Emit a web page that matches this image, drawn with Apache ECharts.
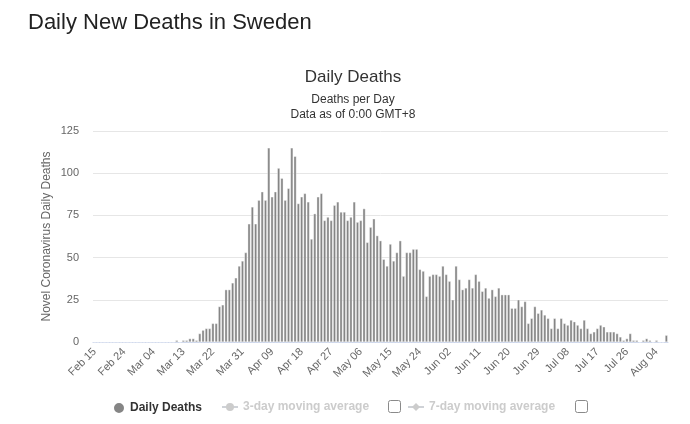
<!DOCTYPE html>
<html>
<head>
<meta charset="utf-8">
<script src="https://cdn.jsdelivr.net/npm/echarts@6/dist/echarts.min.js"></script>
<style>
html,body{margin:0;padding:0;background:#fff;}
#chart{width:690px;height:424px;}
</style>
</head>
<body>
<div id="chart"></div>
<script>
// Categories: daily from Feb 15 to Aug 07 (2020)
const startDate = Date.UTC(2020, 1, 15);
const dayCount = 175;
const monthNames = ['Jan','Feb','Mar','Apr','May','Jun','Jul','Aug','Sep','Oct','Nov','Dec'];
const categories = [];
for (let i = 0; i < dayCount; i++) {
  const d = new Date(startDate + i * 86400000);
  const dd = d.getUTCDate();
  categories.push(monthNames[d.getUTCMonth()] + ' ' + (dd < 10 ? '0' + dd : '' + dd));
}

const dailyDeaths = [
  0,0,0,0,0,0,0,0,0,0,
  0,0,0,0,0,0,0,0,0,0,
  0,0,0,0,0,
  1,0,1,1,2,2,1,5,7,8,
  8,11,11,21,22,31,31,35,38,45,
  48,53,70,80,70,84,89,84,115,86,
  89,103,97,84,91,115,110,82,86,88,
  83,61,76,86,88,72,74,72,81,83,
  77,77,72,74,83,71,72,79,59,68,
  73,63,60,49,45,58,48,53,60,39,
  53,53,55,55,43,42,27,39,40,40,
  39,45,40,36,25,45,37,31,32,37,
  32,40,36,30,32,26,31,27,32,28,
  28,28,20,20,25,21,24,11,14,21,
  17,19,16,14,8,14,8,14,11,10,
  13,12,10,8,13,8,5,6,8,10,
  9,6,6,6,5,3,1,2,5,1,
  1,0,1,2,1,0,1,0,0,4
];
const movingAvg3 = [];
const movingAvg7 = [];

const yTicks = { min: 0, max: 125, interval: 25 };

const FONT = 'Liberation Sans, Arial, Helvetica, sans-serif';

const chart = echarts.init(document.getElementById('chart'), null, { renderer: 'canvas' });
chart.setOption({
  animation: false,
  backgroundColor: '#ffffff',
  textStyle: { fontFamily: FONT },
  title: [
    {
      text: 'Daily New Deaths in Sweden',
      left: 28, top: 12, padding: 0,
      textStyle: { fontSize: 22, fontWeight: 'normal', color: '#222', fontFamily: FONT }
    },
    {
      text: 'Daily Deaths',
      subtext: 'Deaths per Day\nData as of 0:00 GMT+8',
      left: 348, top: 64,
      textAlign: 'center',
      itemGap: 6,
      textStyle: { fontSize: 17, fontWeight: 'normal', color: '#333', fontFamily: FONT },
      subtextStyle: { fontSize: 12, color: '#333', lineHeight: 15, fontFamily: FONT }
    }
  ],
  grid: { left: 93, right: 22, top: 131, bottom: 82 },
  xAxis: {
    type: 'category',
    data: categories,
    boundaryGap: true,
    axisLine: { lineStyle: { color: '#ccd6eb' } },
    axisTick: { show: false },
    axisLabel: {
      interval: 8,
      rotate: 45,
      margin: 8,
      fontSize: 11,
      color: '#666',
      fontFamily: FONT
    },
    splitLine: { show: false }
  },
  yAxis: {
    type: 'value',
    min: yTicks.min, max: yTicks.max, interval: yTicks.interval,
    name: 'Novel Coronavirus Daily Deaths',
    nameLocation: 'middle',
    nameGap: 40,
    nameMoveOverlap: false,
    nameTextStyle: { fontSize: 12, color: '#666', fontFamily: FONT },
    axisLine: { show: false },
    axisTick: { show: false },
    axisLabel: { fontSize: 11, color: '#666', margin: 14, fontFamily: FONT },
    splitLine: { lineStyle: { color: '#e6e6e6' } }
  },
  legend: [
    {
      data: [{ name: 'Daily Deaths', icon: 'circle' }],
      left: 107, top: 396,
      itemWidth: 12, itemHeight: 12,
      textStyle: { fontSize: 12, fontWeight: 'bold', color: '#333', fontFamily: FONT }
    },
    {
      data: ['3-day moving average'],
      left: 216, top: 396,
      itemWidth: 16, itemHeight: 10,
      inactiveColor: '#ccc',
      selected: { '3-day moving average': false },
      textStyle: { fontSize: 12, fontWeight: 'bold', color: '#333', fontFamily: FONT }
    },
    {
      data: ['7-day moving average'],
      left: 402, top: 396,
      itemWidth: 16, itemHeight: 10,
      inactiveColor: '#ccc',
      selected: { '7-day moving average': false },
      textStyle: { fontSize: 12, fontWeight: 'bold', color: '#333', fontFamily: FONT }
    }
  ],
  graphic: [
    { type: 'rect', shape: { x: 388.5, y: 400.5, width: 12, height: 12, r: 2 }, style: { fill: '#fff', stroke: '#8a8a8a', lineWidth: 1 } },
    { type: 'rect', shape: { x: 575.5, y: 400.5, width: 12, height: 12, r: 2 }, style: { fill: '#fff', stroke: '#8a8a8a', lineWidth: 1 } }
  ],
  series: [
    {
      name: 'Daily Deaths',
      type: 'bar',
      data: dailyDeaths,
      barWidth: '80%',
      itemStyle: { color: '#858585', borderColor: '#ffffff', borderWidth: 0.4 }
    },
    {
      name: '3-day moving average',
      type: 'line',
      data: movingAvg3,
      color: '#aaaaaa',
      symbol: 'circle'
    },
    {
      name: '7-day moving average',
      type: 'line',
      data: movingAvg7,
      color: '#aaaaaa',
      symbol: 'diamond'
    }
  ]
});
</script>
</body>
</html>
